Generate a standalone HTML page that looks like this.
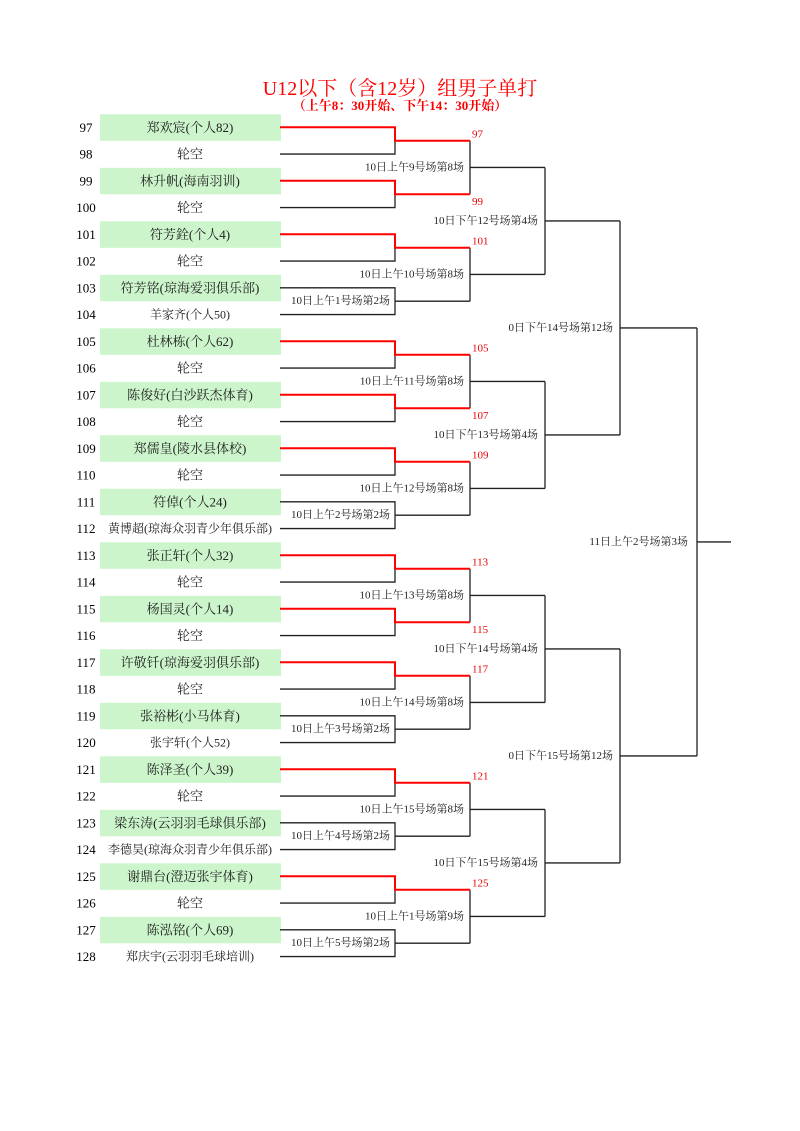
<!DOCTYPE html>
<html><head><meta charset="utf-8"><style>
html,body{margin:0;padding:0;background:#fff;}
svg{display:block;font-family:"Liberation Serif","Noto Serif CJK SC",serif;}
.n{font-size:13px;text-anchor:middle;fill:#000;}
.p{font-size:13px;text-anchor:middle;fill:#222}
.s{font-size:12px;text-anchor:middle;fill:#222}
.l{font-size:11px;text-anchor:end;fill:#222}
.r{font-size:11px;fill:#e00}
.k{fill:none;stroke:#222;stroke-width:1.3}
.rd{fill:none;stroke:#f00;stroke-width:2}
</style></head><body>
<svg width="800" height="1131" viewBox="0 0 800 1131" xmlns="http://www.w3.org/2000/svg">
<text x="400" y="95" font-size="20" fill="#f00" text-anchor="middle">U12以下（含12岁）组男子单打</text>
<text x="400" y="110" font-size="13" font-weight="bold" fill="#f00" text-anchor="middle">（上午8：30开始、下午14：30开始）</text>
<g fill="#ccf5cc">
<rect x="100" y="114.3" width="181" height="26.5"/><rect x="100" y="167.8" width="181" height="26.5"/><rect x="100" y="221.3" width="181" height="26.5"/><rect x="100" y="274.8" width="181" height="26.5"/><rect x="100" y="328.3" width="181" height="26.5"/><rect x="100" y="381.8" width="181" height="26.5"/><rect x="100" y="435.3" width="181" height="26.5"/><rect x="100" y="488.8" width="181" height="26.5"/><rect x="100" y="542.3" width="181" height="26.5"/><rect x="100" y="595.8" width="181" height="26.5"/><rect x="100" y="649.3" width="181" height="26.5"/><rect x="100" y="702.8" width="181" height="26.5"/><rect x="100" y="756.3" width="181" height="26.5"/><rect x="100" y="809.8" width="181" height="26.5"/><rect x="100" y="863.3" width="181" height="26.5"/><rect x="100" y="916.8" width="181" height="26.5"/>
</g>
<g dominant-baseline="central">
<text class="n" x="86" y="127.3">97</text><text class="n" x="86" y="154.05">98</text><text class="n" x="86" y="180.8">99</text><text class="n" x="86" y="207.55">100</text><text class="n" x="86" y="234.3">101</text><text class="n" x="86" y="261.05">102</text><text class="n" x="86" y="287.8">103</text><text class="n" x="86" y="314.55">104</text><text class="n" x="86" y="341.3">105</text><text class="n" x="86" y="368.05">106</text><text class="n" x="86" y="394.8">107</text><text class="n" x="86" y="421.55">108</text><text class="n" x="86" y="448.3">109</text><text class="n" x="86" y="475.05">110</text><text class="n" x="86" y="501.8">111</text><text class="n" x="86" y="528.55">112</text><text class="n" x="86" y="555.3">113</text><text class="n" x="86" y="582.05">114</text><text class="n" x="86" y="608.8">115</text><text class="n" x="86" y="635.55">116</text><text class="n" x="86" y="662.3">117</text><text class="n" x="86" y="689.05">118</text><text class="n" x="86" y="715.8">119</text><text class="n" x="86" y="742.55">120</text><text class="n" x="86" y="769.3">121</text><text class="n" x="86" y="796.05">122</text><text class="n" x="86" y="822.8">123</text><text class="n" x="86" y="849.55">124</text><text class="n" x="86" y="876.3">125</text><text class="n" x="86" y="903.05">126</text><text class="n" x="86" y="929.8">127</text><text class="n" x="86" y="956.55">128</text>

<text class="p" x="190" y="127.3">郑欢宸(个人82)</text><text class="p" x="190" y="154.05">轮空</text><text class="p" x="190" y="180.8">林升帆(海南羽训)</text><text class="p" x="190" y="207.55">轮空</text><text class="p" x="190" y="234.3">符芳銓(个人4)</text><text class="p" x="190" y="261.05">轮空</text><text class="p" x="190" y="287.8">符芳铭(琼海爱羽俱乐部)</text><text class="s" x="190" y="314.55">羊家齐(个人50)</text><text class="p" x="190" y="341.3">杜林栋(个人62)</text><text class="p" x="190" y="368.05">轮空</text><text class="p" x="190" y="394.8">陈俊好(白沙跃杰体育)</text><text class="p" x="190" y="421.55">轮空</text><text class="p" x="190" y="448.3">郑儒皇(陵水县体校)</text><text class="p" x="190" y="475.05">轮空</text><text class="p" x="190" y="501.8">符倬(个人24)</text><text class="s" x="190" y="528.55">黄博超(琼海众羽青少年俱乐部)</text><text class="p" x="190" y="555.3">张正轩(个人32)</text><text class="p" x="190" y="582.05">轮空</text><text class="p" x="190" y="608.8">杨国灵(个人14)</text><text class="p" x="190" y="635.55">轮空</text><text class="p" x="190" y="662.3">许敬钎(琼海爱羽俱乐部)</text><text class="p" x="190" y="689.05">轮空</text><text class="p" x="190" y="715.8">张裕彬(小马体育)</text><text class="s" x="190" y="742.55">张宇轩(个人52)</text><text class="p" x="190" y="769.3">陈泽圣(个人39)</text><text class="p" x="190" y="796.05">轮空</text><text class="p" x="190" y="822.8">梁东涛(云羽羽毛球俱乐部)</text><text class="s" x="190" y="849.55">李德昊(琼海众羽青少年俱乐部)</text><text class="p" x="190" y="876.3">谢鼎台(澄迈张宇体育)</text><text class="p" x="190" y="903.05">轮空</text><text class="p" x="190" y="929.8">陈泓铭(个人69)</text><text class="s" x="190" y="956.55">郑庆宇(云羽羽毛球培训)</text>

<text class="l" x="390" y="301.2">10日上午1号场第2场</text>
<text class="l" x="390" y="515.2">10日上午2号场第2场</text>
<text class="l" x="390" y="729.2">10日上午3号场第2场</text>
<text class="l" x="390" y="836.2">10日上午4号场第2场</text>
<text class="l" x="390" y="943.2">10日上午5号场第2场</text>
<text class="l" x="464" y="167.45">10日上午9号场第8场</text>
<text class="l" x="464" y="274.45">10日上午10号场第8场</text>
<text class="l" x="464" y="381.45">10日上午11号场第8场</text>
<text class="l" x="464" y="488.45">10日上午12号场第8场</text>
<text class="l" x="464" y="595.45">10日上午13号场第8场</text>
<text class="l" x="464" y="702.45">10日上午14号场第8场</text>
<text class="l" x="464" y="809.45">10日上午15号场第8场</text>
<text class="l" x="464" y="916.45">10日上午1号场第9场</text>
<text class="l" x="538" y="220.95">10日下午12号场第4场</text>
<text class="l" x="538" y="434.95">10日下午13号场第4场</text>
<text class="l" x="538" y="648.95">10日下午14号场第4场</text>
<text class="l" x="538" y="862.95">10日下午15号场第4场</text>
<text class="l" x="613" y="327.95">0日下午14号场第12场</text>
<text class="l" x="613" y="755.95">0日下午15号场第12场</text>
<text class="l" x="688" y="541.95">11日上午2号场第3场</text>

<text class="r" x="472" y="134.7">97</text>
<text class="r" x="472" y="202.2">99</text>
<text class="r" x="472" y="241.7">101</text>
<text class="r" x="472" y="348.7">105</text>
<text class="r" x="472" y="416.2">107</text>
<text class="r" x="472" y="455.7">109</text>
<text class="r" x="472" y="562.7">113</text>
<text class="r" x="472" y="630.2">115</text>
<text class="r" x="472" y="669.7">117</text>
<text class="r" x="472" y="776.7">121</text>
<text class="r" x="472" y="883.7">125</text>
</g>

<path class="k" d="M280 154.05H395V140.7 M280 207.55H395V194.2 M280 261.05H395V247.7 M280 368.05H395V354.7 M280 421.55H395V408.2 M280 475.05H395V461.7 M280 582.05H395V568.7 M280 635.55H395V622.2 M280 689.05H395V675.7 M280 796.05H395V782.7 M280 903.05H395V889.7"/>
<path class="k" d="M280 287.8H395V314.55H280 M395 301.2H470 M280 501.8H395V528.55H280 M395 515.2H470 M280 715.8H395V742.55H280 M395 729.2H470 M280 822.8H395V849.55H280 M395 836.2H470 M280 929.8H395V956.55H280 M395 943.2H470"/>
<path class="k" d="M470 140.7V194.2 M470 167.45H545 M470 247.7V301.2 M470 274.45H545 M470 354.7V408.2 M470 381.45H545 M470 461.7V515.2 M470 488.45H545 M470 568.7V622.2 M470 595.45H545 M470 675.7V729.2 M470 702.45H545 M470 782.7V836.2 M470 809.45H545 M470 889.7V943.2 M470 916.45H545"/>
<path class="k" d="M545 167.45V274.45 M545 220.95H620 M545 381.45V488.45 M545 434.95H620 M545 595.45V702.45 M545 648.95H620 M545 809.45V916.45 M545 862.95H620"/>
<path class="k" d="M620 220.95V434.95 M620 327.95H697 M620 648.95V862.95 M620 755.95H697"/>
<path class="k" d="M697 327.95V755.95 M697 541.95H731"/>
<path class="rd" d="M280 127.3H395V140.7H470 M280 180.8H395V194.2H470 M280 234.3H395V247.7H470 M280 341.3H395V354.7H470 M280 394.8H395V408.2H470 M280 448.3H395V461.7H470 M280 555.3H395V568.7H470 M280 608.8H395V622.2H470 M280 662.3H395V675.7H470 M280 769.3H395V782.7H470 M280 876.3H395V889.7H470"/>
</svg>
</body></html>
